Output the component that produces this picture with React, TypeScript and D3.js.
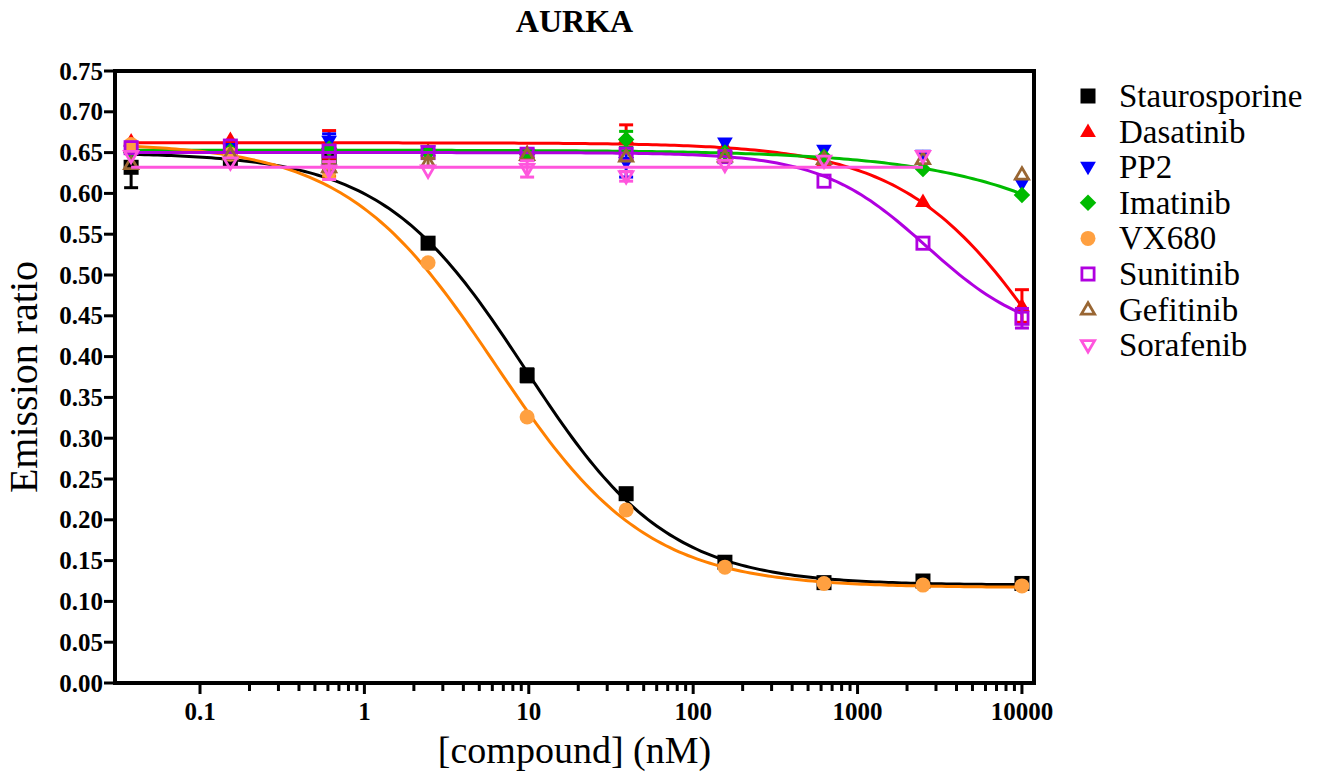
import React from "react";
import * as d3 from "d3";

// ---- data ----
const concentrations = [0.0381, 0.153, 0.61, 2.44, 9.77, 39.1, 156, 625, 2500, 10000];

const seriesNames = ["Staurosporine", "Dasatinib", "PP2", "Imatinib", "VX680", "Sunitinib", "Gefitinib", "Sorafenib"];

const staurosporine = [0.632, 0.641, 0.64, 0.539, 0.377, 0.232, 0.148, 0.123, 0.125, 0.122];
const staurosporineErr = [0.025, 0.004, 0.004, 0.003, 0.008, 0.004, 0.003, 0.003, 0.003, 0.003];
const dasatinib = [0.664, 0.666, 0.66, 0.652, 0.65, 0.668, 0.657, 0.64, 0.59, 0.462];
const dasatinibErr = [0.003, 0.003, 0.017, 0.003, 0.003, 0.016, 0.003, 0.003, 0.003, 0.02];
const pp2 = [0.652, 0.655, 0.664, 0.652, 0.648, 0.638, 0.662, 0.653, 0.647, 0.612];
const pp2Err = [0.003, 0.003, 0.009, 0.004, 0.003, 0.018, 0.003, 0.003, 0.003, 0.004];
const imatinib = [0.65, 0.652, 0.655, 0.65, 0.648, 0.666, 0.65, 0.645, 0.63, 0.598];
const imatinibErr = [0.003, 0.003, 0.003, 0.003, 0.003, 0.01, 0.003, 0.003, 0.003, 0.003];
const vx680 = [0.66, 0.648, 0.627, 0.515, 0.326, 0.212, 0.142, 0.122, 0.12, 0.119];
const vx680Err = [0.003, 0.003, 0.006, 0.003, 0.003, 0.003, 0.003, 0.003, 0.003, 0.003];
const sunitinib = [0.656, 0.658, 0.652, 0.65, 0.648, 0.648, 0.645, 0.615, 0.539, 0.447];
const sunitinibErr = [0.003, 0.003, 0.003, 0.003, 0.003, 0.003, 0.003, 0.003, 0.003, 0.012];
const gefitinib = [0.636, 0.648, 0.632, 0.638, 0.647, 0.645, 0.645, 0.642, 0.642, 0.623];
const gefitinibErr = [0.003, 0.003, 0.005, 0.005, 0.003, 0.003, 0.003, 0.003, 0.003, 0.003];
const sorafenib = [0.646, 0.638, 0.628, 0.628, 0.63, 0.621, 0.635, 0.64, 0.646, null];
const sorafenibErr = [0.003, 0.003, 0.011, 0.003, 0.01, 0.006, 0.004, 0.003, 0.003, 0];

// fitted 4-parameter logistic curves (null = no curve drawn)
const fitTop = [0.65, 0.662, null, 0.653, 0.662, 0.65, null, 0.632];
const fitBottom = [0.12, 0.12, null, 0.12, 0.117, 0.42, null, 0.632];
const fitEC50 = [9.5, 17500, null, 250000, 6.3, 2630, null, 1];
const fitHill = [1.0, 0.95, null, 0.68, 0.95, 1.35, null, 1];
const fitEnd = [10000, 10000, null, 10000, 10000, 10000, null, 2500];

const pointColors = ["#000000", "#ff0000", "#0000ff", "#00bb00", "#ffa040", "#b000e0", "#996633", "#ff55dd"];
const lineColors = ["#000000", "#ff0000", "#0000ff", "#00bb00", "#ff8000", "#b000e0", "#996633", "#ff55dd"];
const markerShapes = ["square", "triangle", "downTriangle", "diamond", "circle", "openSquare", "openTriangle", "openDownTriangle"];

const yTicks = [0, 0.05, 0.1, 0.15, 0.2, 0.25, 0.3, 0.35, 0.4, 0.45, 0.5, 0.55, 0.6, 0.65, 0.7, 0.75];
const xMajorTicks = [0.1, 1, 10, 100, 1000, 10000];
const xTickLabels = ["0.1", "1", "10", "100", "1000", "10000"];

const title = "AURKA";
const xTitle = "[compound] (nM)";
const yTitle = "Emission ratio";

const values = [staurosporine, dasatinib, pp2, imatinib, vx680, sunitinib, gefitinib, sorafenib];
const errors = [staurosporineErr, dasatinibErr, pp2Err, imatinibErr, vx680Err, sunitinibErr, gefitinibErr, sorafenibErr];

// ---- layout ----
const W = 1317;
const H = 777;
const L = 115, R = 1034, T = 71, B = 683;
const FONT = "'Liberation Serif', 'Times New Roman', serif";

function Marker({ shape, cx, cy, color, s }: { shape: string; cx: number; cy: number; color: string; s: number }) {
  const h = s / 2;
  const open = shape.startsWith("open");
  const fill = open ? "none" : color;
  const stroke = open ? color : "none";
  const sw = open ? 2.8 : 0;
  if (shape === "square" || shape === "openSquare") {
    const hh = open ? h - 1.4 : h;
    return <rect x={cx - hh} y={cy - hh} width={hh * 2} height={hh * 2} fill={fill} stroke={stroke} strokeWidth={sw} />;
  }
  if (shape === "circle") return <circle cx={cx} cy={cy} r={h} fill={fill} />;
  if (shape === "diamond") {
    const d = h * 1.1;
    return <path d={`M${cx},${cy - d}L${cx + d},${cy}L${cx},${cy + d}L${cx - d},${cy}Z`} fill={fill} />;
  }
  const up = shape === "triangle" || shape === "openTriangle";
  const k = open ? h - 1.2 : h;
  const th = k * 1.8;
  const d = up
    ? `M${cx},${cy - th * 0.6}L${cx + k * 1.05},${cy + th * 0.4}L${cx - k * 1.05},${cy + th * 0.4}Z`
    : `M${cx},${cy + th * 0.6}L${cx + k * 1.05},${cy - th * 0.4}L${cx - k * 1.05},${cy - th * 0.4}Z`;
  return <path d={d} fill={fill} stroke={stroke} strokeWidth={sw} strokeLinejoin="miter" />;
}

export default function App() {
  const x = d3.scaleLog().domain([0.0304, 11840]).range([L, R]);
  const y = d3.scaleLinear().domain([0, 0.75]).range([B, T]);

  const minorTicks: number[] = [];
  for (let dec = 0.1; dec < 10000; dec *= 10) {
    for (let m = 2; m <= 9; m++) minorTicks.push(+(dec * m).toPrecision(3));
  }

  const line = d3
    .line<[number, number]>()
    .x((d) => x(d[0]))
    .y((d) => y(d[1]));

  const curves = seriesNames.map((_, i) => {
    const top = fitTop[i];
    if (top === null) return null;
    const bottom = fitBottom[i] as number;
    const ec = fitEC50[i] as number;
    const hill = fitHill[i] as number;
    const end = fitEnd[i] as number;
    const lo = Math.log10(concentrations[0]);
    const hi = Math.log10(end);
    const pts: [number, number][] = d3.range(0, 201).map((k) => {
      const c = Math.pow(10, lo + ((hi - lo) * k) / 200);
      return [c, bottom + (top - bottom) / (1 + Math.pow(c / ec, hill))];
    });
    return line(pts);
  });

  const legendY0 = 96;
  const legendStep = 35.6;

  return (
    <svg width={W} height={H} style={{ position: "fixed", left: 0, top: 0, background: "#fff" }} fontFamily={FONT}>
      <rect x={0} y={0} width={W} height={H} fill="#fff" />
      {/* title */}
      <text x={(L + R) / 2} y={32} textAnchor="middle" fontWeight="bold" fontSize={32}>
        {title}
      </text>

      {/* series */}
      {seriesNames.map((name, i) => (
        <g key={name}>
          {curves[i] && <path d={curves[i] as string} fill="none" stroke={lineColors[i]} strokeWidth={3} />}
          {concentrations.map((c, j) => {
            const v = values[i][j];
            if (v === null) return null;
            const e = errors[i][j];
            if (!e || e < 0.005) return null;
            const cx = x(c);
            return (
              <g key={j} stroke={pointColors[i] === "#ffa040" ? "#ff8000" : pointColors[i]} strokeWidth={3}>
                <line x1={cx} x2={cx} y1={y(v - e)} y2={y(v + e)} />
                <line x1={cx - 7} x2={cx + 7} y1={y(v - e)} y2={y(v - e)} />
                <line x1={cx - 7} x2={cx + 7} y1={y(v + e)} y2={y(v + e)} />
              </g>
            );
          })}
          {concentrations.map((c, j) => {
            const v = values[i][j];
            if (v === null) return null;
            return <Marker key={j} shape={markerShapes[i]} cx={x(c)} cy={y(v)} color={pointColors[i]} s={15} />;
          })}
        </g>
      ))}

      {/* frame */}
      <rect x={L} y={T} width={R - L} height={B - T} fill="none" stroke="#000" strokeWidth={4} />

      {/* y axis */}
      {yTicks.map((t) => (
        <g key={t}>
          <line x1={L - 11} x2={L} y1={y(t)} y2={y(t)} stroke="#000" strokeWidth={3} />
          <text x={L - 12} y={y(t)} dy="0.34em" textAnchor="end" fontWeight="bold" fontSize={25}>
            {t.toFixed(2)}
          </text>
        </g>
      ))}

      {/* x axis */}
      {minorTicks.map((t) => (
        <line key={"m" + t} x1={x(t)} x2={x(t)} y1={B} y2={B + 8} stroke="#000" strokeWidth={3} />
      ))}
      {xMajorTicks.map((t, i) => (
        <g key={t}>
          <line x1={x(t)} x2={x(t)} y1={B} y2={B + 11} stroke="#000" strokeWidth={3} />
          <text x={x(t)} y={720} textAnchor="middle" fontWeight="bold" fontSize={25}>
            {xTickLabels[i]}
          </text>
        </g>
      ))}

      {/* axis titles */}
      <text x={(L + R) / 2} y={763} textAnchor="middle" fontSize={38}>
        {xTitle}
      </text>
      <text transform={`translate(37, ${(T + B) / 2}) rotate(-90)`} textAnchor="middle" fontSize={40}>
        {yTitle}
      </text>

      {/* legend */}
      {seriesNames.map((name, i) => {
        const cy = legendY0 + i * legendStep;
        return (
          <g key={"lg" + name}>
            <Marker shape={markerShapes[i]} cx={1088} cy={cy} color={pointColors[i]} s={15} />
            <text x={1119} y={cy + 11} fontSize={33}>
              {name}
            </text>
          </g>
        );
      })}
    </svg>
  );
}
